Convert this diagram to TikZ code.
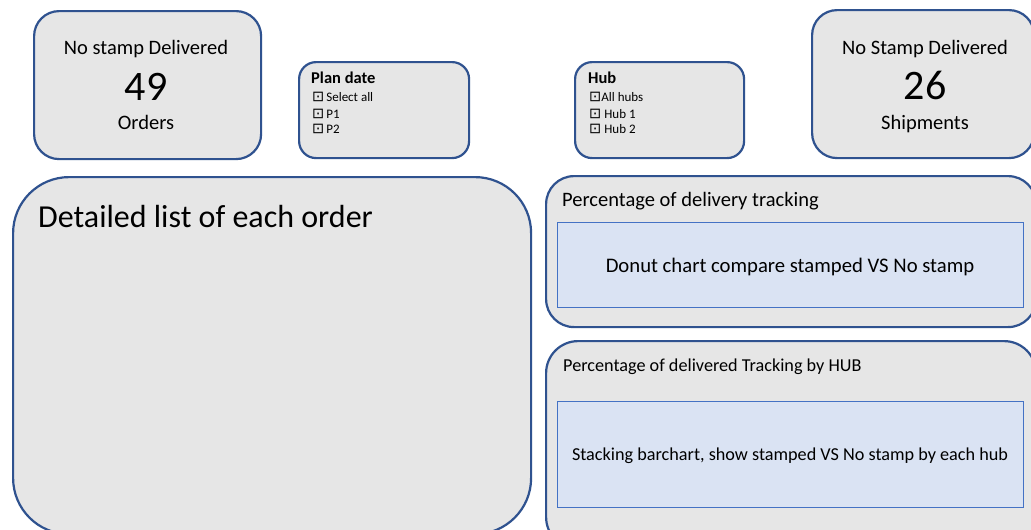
\documentclass[tikz,border=0pt]{standalone}
\usepackage{fontspec}
\setmainfont{Carlito}
\newfontfamily\symfont{DejaVu Sans}
\definecolor{edge}{HTML}{2F528F}
\definecolor{panelfill}{HTML}{E6E6E6}
\definecolor{chartfill}{HTML}{DAE3F3}
\definecolor{chartedge}{HTML}{4472C4}
\newcommand{\chk}{{\symfont\fontsize{14.5}{14.5}\selectfont ⊡}}
\begin{document}
\begin{tikzpicture}[x=1pt,y=-1pt,
  panel/.style={draw=edge, fill=panelfill, line width=2.2pt, anchor=north west, inner sep=0pt},
  chart/.style={draw=chartedge, fill=chartfill, line width=0.9pt, anchor=north west, inner sep=0pt},
  txt/.style={inner sep=0pt, anchor=base, text=black},
  txtw/.style={inner sep=0pt, anchor=base west, text=black},
  kpitxt/.style={txt, font=\fontsize{20.5}{24}\selectfont},
  bignum/.style={txt, font=\fontsize{42}{48}\selectfont},
  heading/.style={txtw, font=\fontsize{20.5}{24}\selectfont},
  filtertitle/.style={txtw, font=\bfseries\fontsize{16.5}{20}\selectfont},
  filteritem/.style={txtw, font=\fontsize{13}{15}\selectfont}]
\useasboundingbox (0,0) rectangle (1031,530);
\fill[white] (0,0) rectangle (1031,530);
\clip (0,0) rectangle (1031,530);

% KPI card: orders
\node[panel, rounded corners=25pt, minimum width=227pt, minimum height=148pt] (kpiA) at (33,10) {};
\node[kpitxt] (kpiAtitle) at (146,54) {No stamp Delivered};
\node[bignum] (kpiAnum) at (146,100) {49};
\node[kpitxt] (kpiAunit) at (146,129) {Orders};

% KPI card: shipments
\node[panel, rounded corners=25pt, minimum width=222pt, minimum height=148pt] (kpiB) at (811,9) {};
\node[kpitxt] (kpiBtitle) at (925,54) {No Stamp Delivered};
\node[bignum] (kpiBnum) at (925,99) {26};
\node[kpitxt] (kpiBunit) at (925,129) {Shipments};

% Slicer: plan date
\node[panel, rounded corners=17pt, minimum width=170pt, minimum height=96pt] (plan) at (298,61) {};
\node[filtertitle] (plantitle) at (311,83) {Plan date};
\node[filteritem] (planall) at (312,101.5) {\chk\hspace{2pt}Select all};
\node[filteritem] (planp1) at (312,118) {\chk\hspace{2pt}P1};
\node[filteritem] (planp2) at (312,133) {\chk\hspace{2pt}P2};

% Slicer: hub
\node[panel, rounded corners=17pt, minimum width=169pt, minimum height=96pt] (hub) at (574,61) {};
\node[filtertitle] (hubtitle) at (588,83) {Hub};
\node[filteritem] (huball) at (589,101.5) {\chk All hubs};
\node[filteritem] (hub1) at (589,118) {\chk\hspace{3pt}Hub 1};
\node[filteritem] (hub2) at (589,133) {\chk\hspace{3pt}Hub 2};

% Detail table
\node[panel, rounded corners=56pt, minimum width=518pt, minimum height=357pt] (detail) at (12,176) {};
\node[txtw, font=\fontsize{32}{38}\selectfont] (detailtitle) at (38,227) {Detailed list of each order};

% Donut chart panel
\node[panel, rounded corners=28pt, minimum width=490pt, minimum height=151pt] (donut) at (545,175) {};
\node[heading] (donuttitle) at (562,206) {Percentage of delivery tracking};
\node[chart, minimum width=466pt, minimum height=85pt] (donutchart) at (557,222) {};
\node[txt, font=\fontsize{20.7}{24}\selectfont] (donuttext) at (790,272) {Donut chart compare stamped VS No stamp};

% Stacked bar chart panel
\node[panel, rounded corners=32pt, minimum width=490pt, minimum height=208pt] (bars) at (545,340) {};
\node[txtw, font=\fontsize{18.2}{22}\selectfont] (barstitle) at (563,371) {Percentage of delivered Tracking by HUB};
\node[chart, minimum width=466pt, minimum height=106pt] (barschart) at (557,401) {};
\node[txt, font=\fontsize{18.2}{22}\selectfont] (barstext) at (790,460) {Stacking barchart, show stamped VS No stamp by each hub};
\end{tikzpicture}
\end{document}
